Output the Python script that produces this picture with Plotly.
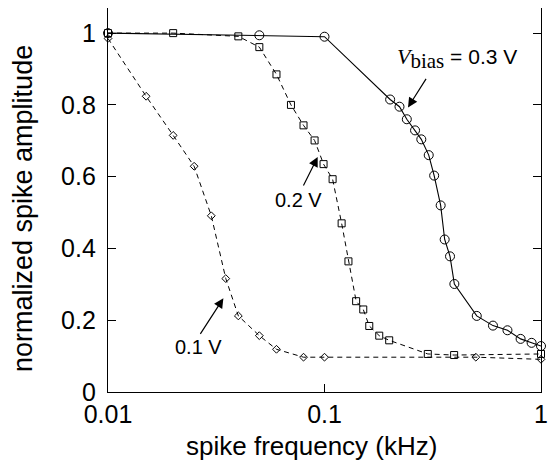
import plotly.graph_objects as go

# ---- data ----
freq_03 = [0.01, 0.05, 0.1, 0.201, 0.222, 0.24, 0.262, 0.28, 0.303, 0.321, 0.344,
           0.359, 0.38, 0.398, 0.505, 0.60, 0.70, 0.805, 0.905, 1.0]
amp_03 = [1.0, 0.994, 0.99, 0.815, 0.795, 0.76, 0.729, 0.704, 0.66, 0.603, 0.52,
          0.425, 0.378, 0.301, 0.212, 0.185, 0.172, 0.148, 0.137, 0.128]

freq_02 = [0.01, 0.02, 0.04, 0.05, 0.06, 0.07, 0.08, 0.09, 0.099, 0.109, 0.12,
           0.129, 0.14, 0.151, 0.161, 0.179, 0.199, 0.30, 0.397, 1.0]
amp_02 = [1.0, 1.0, 0.991, 0.961, 0.885, 0.80, 0.743, 0.701, 0.635, 0.593, 0.47,
          0.364, 0.253, 0.23, 0.184, 0.157, 0.144, 0.106, 0.103, 0.106]

freq_01 = [0.01, 0.015, 0.02, 0.025, 0.03, 0.035, 0.04, 0.05, 0.06, 0.08, 0.1, 0.5, 1.0]
amp_01 = [0.985, 0.824, 0.715, 0.629, 0.491, 0.316, 0.212, 0.157, 0.119, 0.097,
          0.097, 0.097, 0.091]

x_ticks = [0.01, 0.1, 1]
x_tick_labels = ["0.01", "0.1", "1"]
y_ticks = [0, 0.2, 0.4, 0.6, 0.8, 1.0]
y_tick_labels = ["0", "0.2", "0.4", "0.6", "0.8", "1"]

fig = go.Figure()

fig.add_trace(go.Scatter(
    x=freq_01, y=amp_01, mode="lines+markers",
    line=dict(color="black", width=1, dash="5px,4px"),
    marker=dict(symbol="diamond-open", size=6, color="black", line=dict(width=1)),
    showlegend=False, cliponaxis=False))
fig.add_trace(go.Scatter(
    x=freq_02, y=amp_02, mode="lines+markers",
    line=dict(color="black", width=1, dash="5px,4px"),
    marker=dict(symbol="square-open", size=7, color="black", line=dict(width=1)),
    showlegend=False, cliponaxis=False))
fig.add_trace(go.Scatter(
    x=freq_03, y=amp_03, mode="lines+markers",
    line=dict(color="black", width=1.1),
    marker=dict(symbol="circle-open", size=9, color="black", line=dict(width=1)),
    showlegend=False, cliponaxis=False))

axis_font = dict(family="Liberation Sans, Arial, sans-serif", size=25, color="black")

fig.update_xaxes(
    type="log", range=[-2, 0],
    tickvals=x_ticks, ticktext=x_tick_labels,
    ticks="inside", ticklen=8, tickwidth=1.2, tickcolor="black",
    showline=True, linecolor="black", linewidth=1.3, mirror=False,
    showgrid=False, zeroline=False, tickfont=axis_font)
fig.update_yaxes(
    range=[0, 1.07],
    tickvals=y_ticks, ticktext=y_tick_labels,
    ticks="inside", ticklen=8, tickwidth=1.2, tickcolor="black",
    showline=True, linecolor="black", linewidth=1.3, mirror="ticks",
    showgrid=False, zeroline=False, tickfont=axis_font, ticklabelstandoff=6)

sans = "Liberation Sans, Arial, sans-serif"

annotations = [
    # axis titles
    dict(text="spike frequency (kHz)", xref="paper", yref="paper",
         x=(311 - 108) / 433, y=-(446 - 392) / 384, xanchor="center", yanchor="middle",
         showarrow=False, font=dict(family=sans, size=26, color="black")),
    dict(text="normalized spike amplitude", xref="paper", yref="paper",
         x=-(108 - 23) / 433, y=(392 - 209) / 384, xanchor="center", yanchor="middle",
         textangle=-90, showarrow=False, font=dict(family=sans, size=27, color="black")),
    # arrows
    dict(text="", x=-0.6143, y=0.793, xref="x", yref="y", showarrow=True,
         ax=19, ay=-30, arrowhead=2, arrowsize=1.6, arrowwidth=1.2, arrowcolor="black"),
    dict(text="", x=-1.0314, y=0.655, xref="x", yref="y", showarrow=True,
         ax=-15, ay=30, arrowhead=2, arrowsize=1.6, arrowwidth=1.2, arrowcolor="black"),
    dict(text="", x=-1.467, y=0.261, xref="x", yref="y", showarrow=True,
         ax=-24, ay=37, arrowhead=2, arrowsize=1.6, arrowwidth=1.2, arrowcolor="black"),
    # labels
    dict(text=("<span style='font-family:Liberation Serif;font-style:italic;font-size:22px'>V</span>"
               "<sub><span style='font-family:Liberation Serif;font-size:21px'>bias</span></sub>"
               " = 0.3 V"),
         x=-0.674, y=(392 - 58) / 358.9, xref="x", yref="y", xanchor="left", yanchor="middle",
         showarrow=False, font=dict(family=sans, size=21, color="black")),
    dict(text="0.2 V", x=-1.1224, y=0.534, xref="x", yref="y", showarrow=False,
         xanchor="center", yanchor="middle", font=dict(family=sans, size=20, color="black")),
    dict(text="0.1 V", x=-1.584, y=0.125, xref="x", yref="y", showarrow=False,
         xanchor="center", yanchor="middle", font=dict(family=sans, size=20, color="black")),
]

fig.update_layout(
    width=549, height=463,
    margin=dict(l=108, r=8, t=8, b=71, autoexpand=False),
    paper_bgcolor="white", plot_bgcolor="white",
    annotations=annotations,
    showlegend=False,
)

fig.write_html("out.html", config={"displayModeBar": False},
               post_script="document.body.style.margin='0px';document.body.style.padding='0px';")
